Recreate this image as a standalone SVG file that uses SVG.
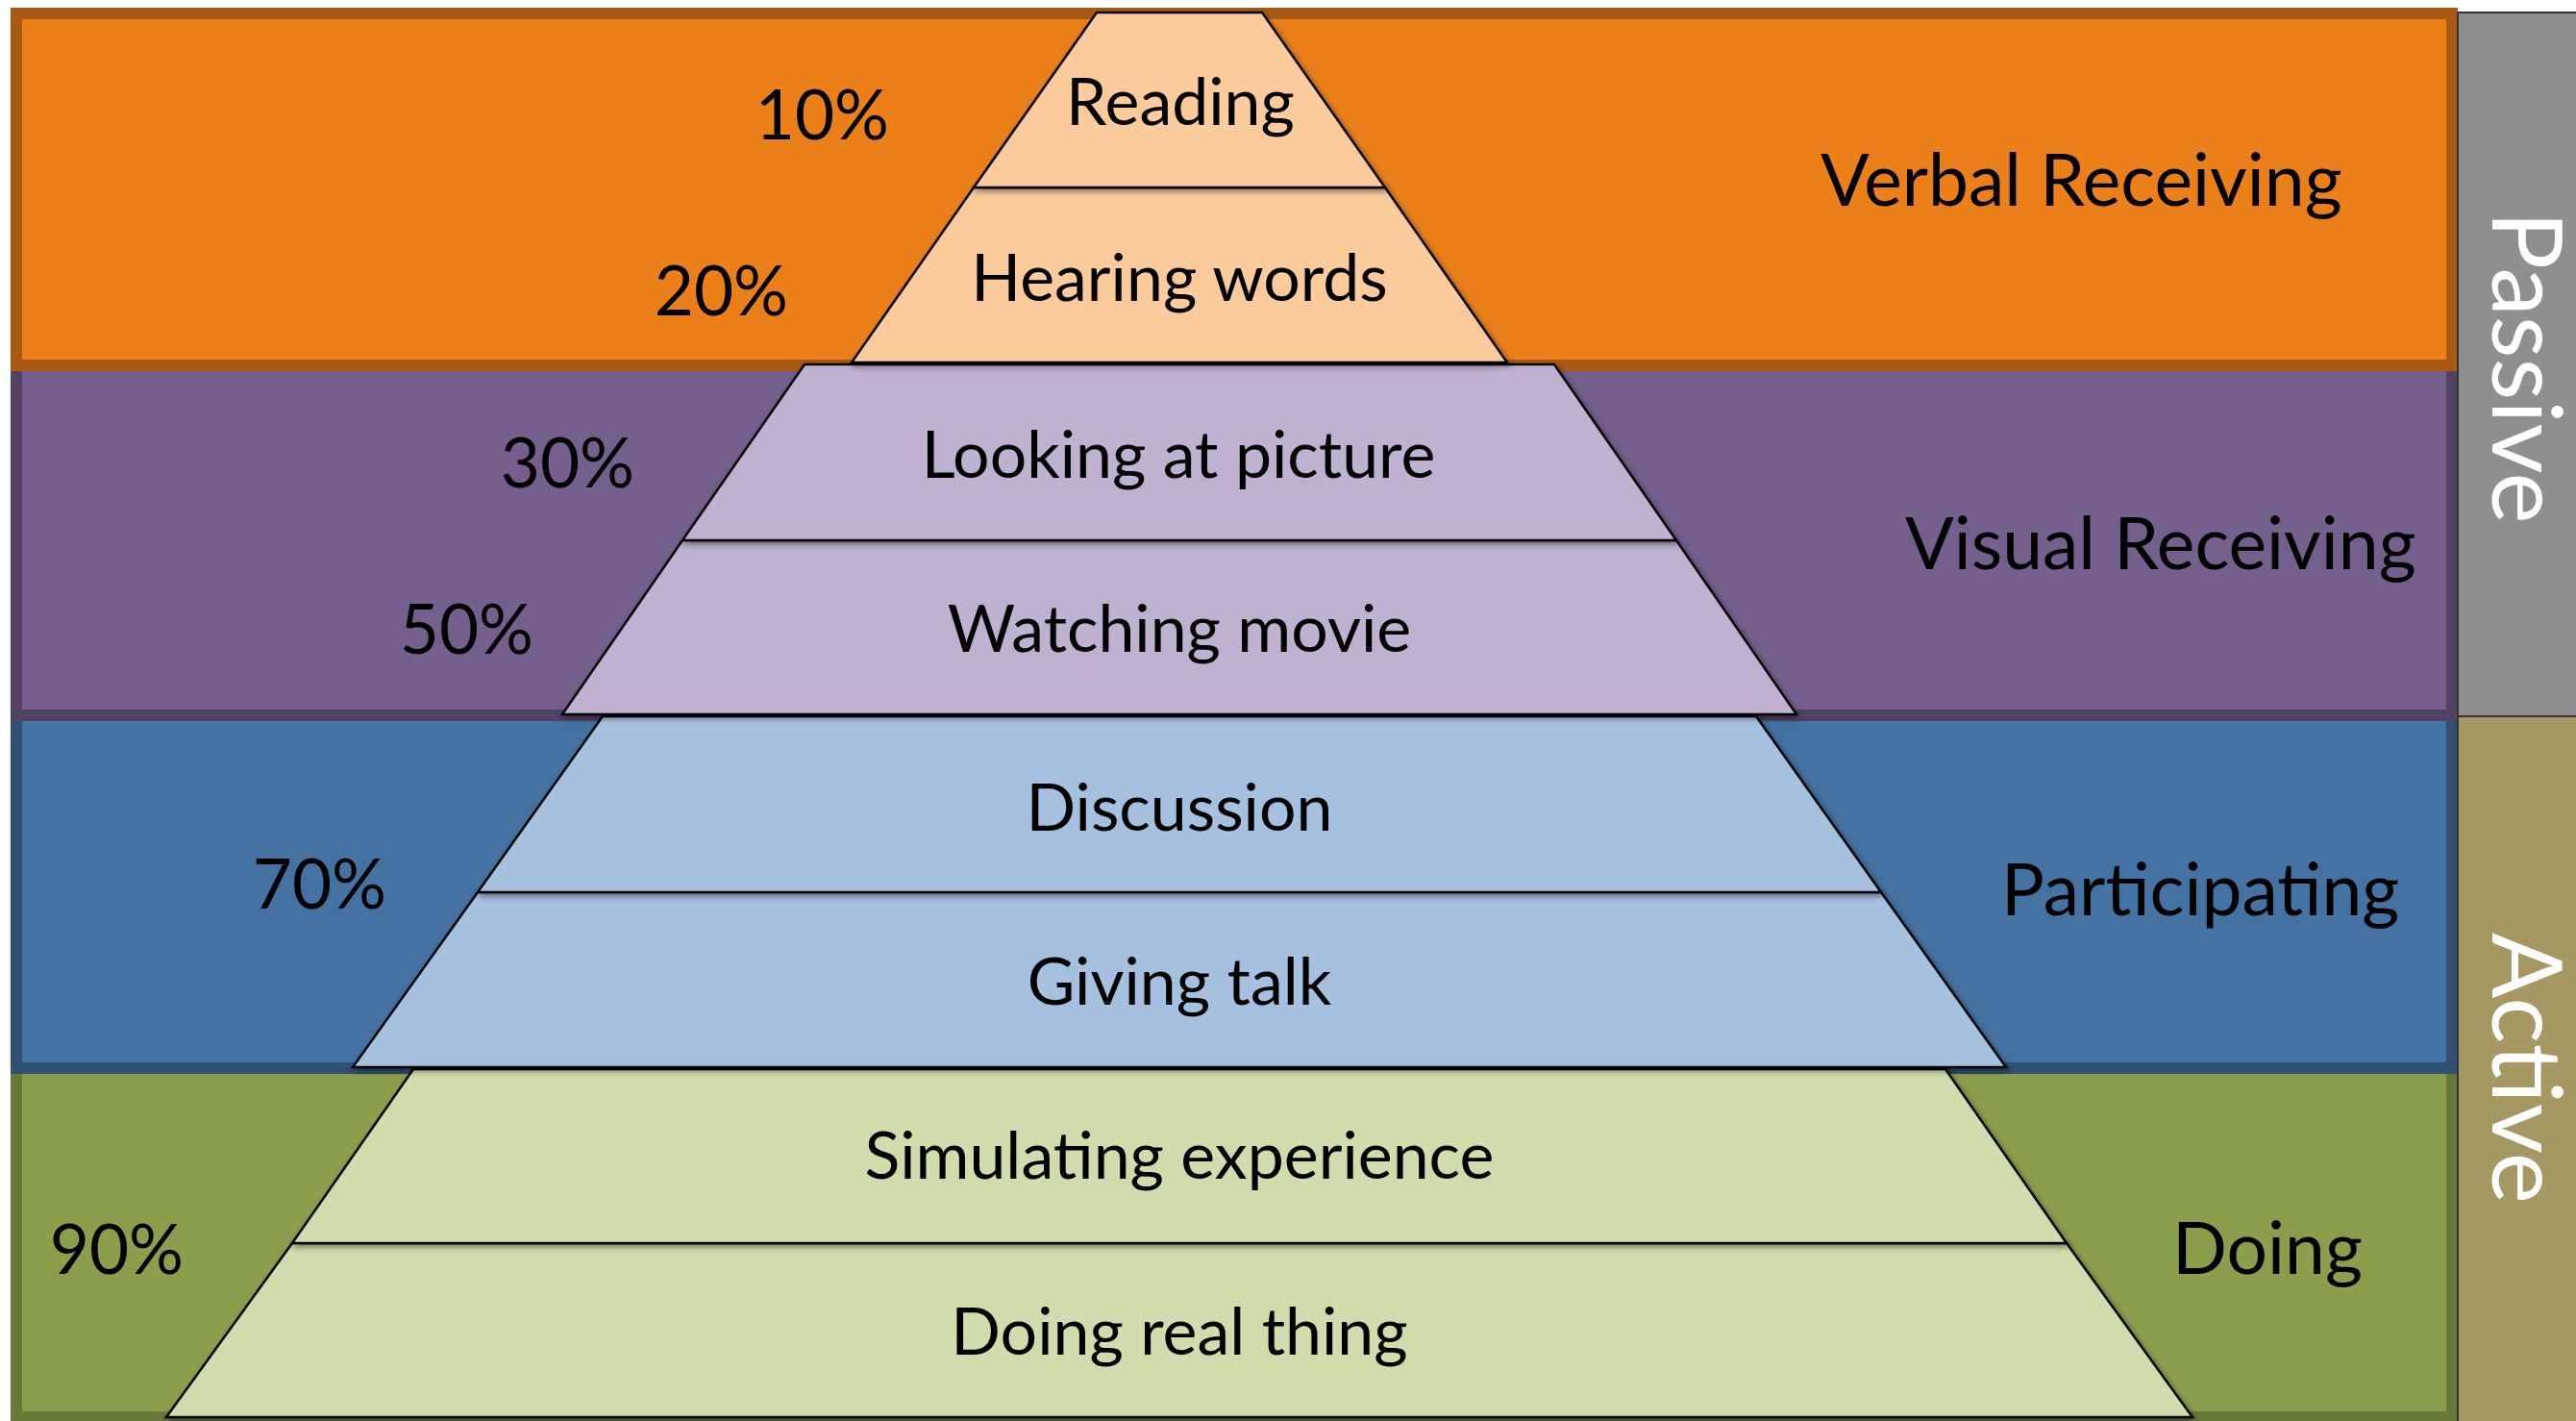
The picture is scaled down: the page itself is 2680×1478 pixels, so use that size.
<svg xmlns="http://www.w3.org/2000/svg" width="2680" height="1478" viewBox="0 0 2680 1478">
  <defs>
    <style>
      .band { stroke-width: 12; }
      .tier { stroke: #000; stroke-width: 2.5; stroke-linejoin: miter; filter: url(#shade); }
      .lbl { font-family: Lato, "Liberation Sans", sans-serif; fill: #000; }
      .tierText { font-size: 68px; text-anchor: middle; }
      .pct { font-size: 71px; text-anchor: end; }
      .cat { font-size: 75px; }
      .side { font-family: Lato, "Liberation Sans", sans-serif; font-size: 101px; fill: #fff; text-anchor: middle; }
    </style>
    <filter id="shade" x="-5%" y="-5%" width="110%" height="115%">
      <feDropShadow dx="2" dy="3" stdDeviation="3" flood-color="#000" flood-opacity="0.45"/>
    </filter>
  </defs>
  <rect width="2680" height="1478" fill="#fff"/>

  <!-- background bands, lowest first so each upper band hides the next one's top edge -->
  <g id="bands">
    <rect id="band-doing" class="band" x="17" y="1111" width="2534" height="363" fill="#8A9F4B" stroke="#667936"/>
    <rect id="band-participating" class="band" x="17" y="744" width="2534" height="367" fill="#4472A2" stroke="#2F5073"/>
    <rect id="band-visual" class="band" x="17" y="380" width="2534" height="364" fill="#745F8D" stroke="#534263"/>
    <rect id="band-verbal" class="band" x="17" y="14" width="2534" height="366" fill="#EB7F1A" stroke="#A85A15"/>
  </g>

  <!-- side panels -->
  <g id="passive">
    <rect x="2557" y="13" width="125" height="732" fill="#8F8F8F" stroke="#333" stroke-width="2"/>
    <text class="side" transform="translate(2593,382) rotate(90)">Passive</text>
  </g>
  <g id="active">
    <rect x="2557" y="745" width="125" height="735" fill="#A69863" stroke="#333" stroke-width="2"/>
    <text class="side" transform="translate(2593,1111) rotate(90)">Active</text>
  </g>

  <!-- pyramid tiers, bottom tiers first -->
  <g id="tier-doing-real">
    <polygon class="tier" points="304,1293 2150,1293 2281,1474 173,1474" fill="#D0DCAB"/>
    <text class="lbl tierText" x="1227" y="1409">Doing real thing</text>
  </g>
  <g id="tier-simulating">
    <polygon class="tier" points="430,1112 2024,1112 2150,1293 304,1293" fill="#D0DCAB"/>
    <text class="lbl tierText" x="1227" y="1226">Simulating experience</text>
  </g>
  <g id="tier-giving-talk">
    <polygon class="tier" points="497,928 1957,928 2087,1110 367,1110" fill="#A6C0DF"/>
    <text class="lbl tierText" x="1227" y="1045">Giving talk</text>
  </g>
  <g id="tier-discussion">
    <polygon class="tier" points="627,745 1827,745 1957,928 497,928" fill="#A6C0DF"/>
    <text class="lbl tierText" x="1227" y="864">Discussion</text>
  </g>
  <g id="tier-watching">
    <polygon class="tier" points="710,562 1744,562 1869,743 585,743" fill="#BFB1CF"/>
    <text class="lbl tierText" x="1227" y="678">Watching movie</text>
  </g>
  <g id="tier-looking">
    <polygon class="tier" points="837,379 1617,379 1744,562 710,562" fill="#BFB1CF"/>
    <text class="lbl tierText" x="1226" y="497">Looking at picture</text>
  </g>
  <g id="tier-hearing">
    <polygon class="tier" points="1013,195 1441,195 1568,377 886,377" fill="#FBCB9C"/>
    <text class="lbl tierText" x="1227" y="313">Hearing words</text>
  </g>
  <g id="tier-reading">
    <polygon class="tier" points="1141,13 1313,13 1441,195 1013,195" fill="#FBCB9C"/>
    <text class="lbl tierText" x="1228" y="130">Reading</text>
  </g>

  <!-- retention percentages -->
  <g id="percentages">
    <text class="lbl pct" x="925" y="145">10%</text>
    <text class="lbl pct" x="820" y="328">20%</text>
    <text class="lbl pct" x="660" y="507">30%</text>
    <text class="lbl pct" x="555" y="680">50%</text>
    <text class="lbl pct" x="402" y="945">70%</text>
    <text class="lbl pct" x="191" y="1325">90%</text>
  </g>

  <!-- band categories -->
  <g id="categories">
    <text class="lbl cat" x="1894" y="214">Verbal Receiving</text>
    <text class="lbl cat" x="1982" y="592">Visual Receiving</text>
    <text class="lbl cat" x="2082" y="952">Participating</text>
    <text class="lbl cat" x="2260" y="1325">Doing</text>
  </g>
</svg>
